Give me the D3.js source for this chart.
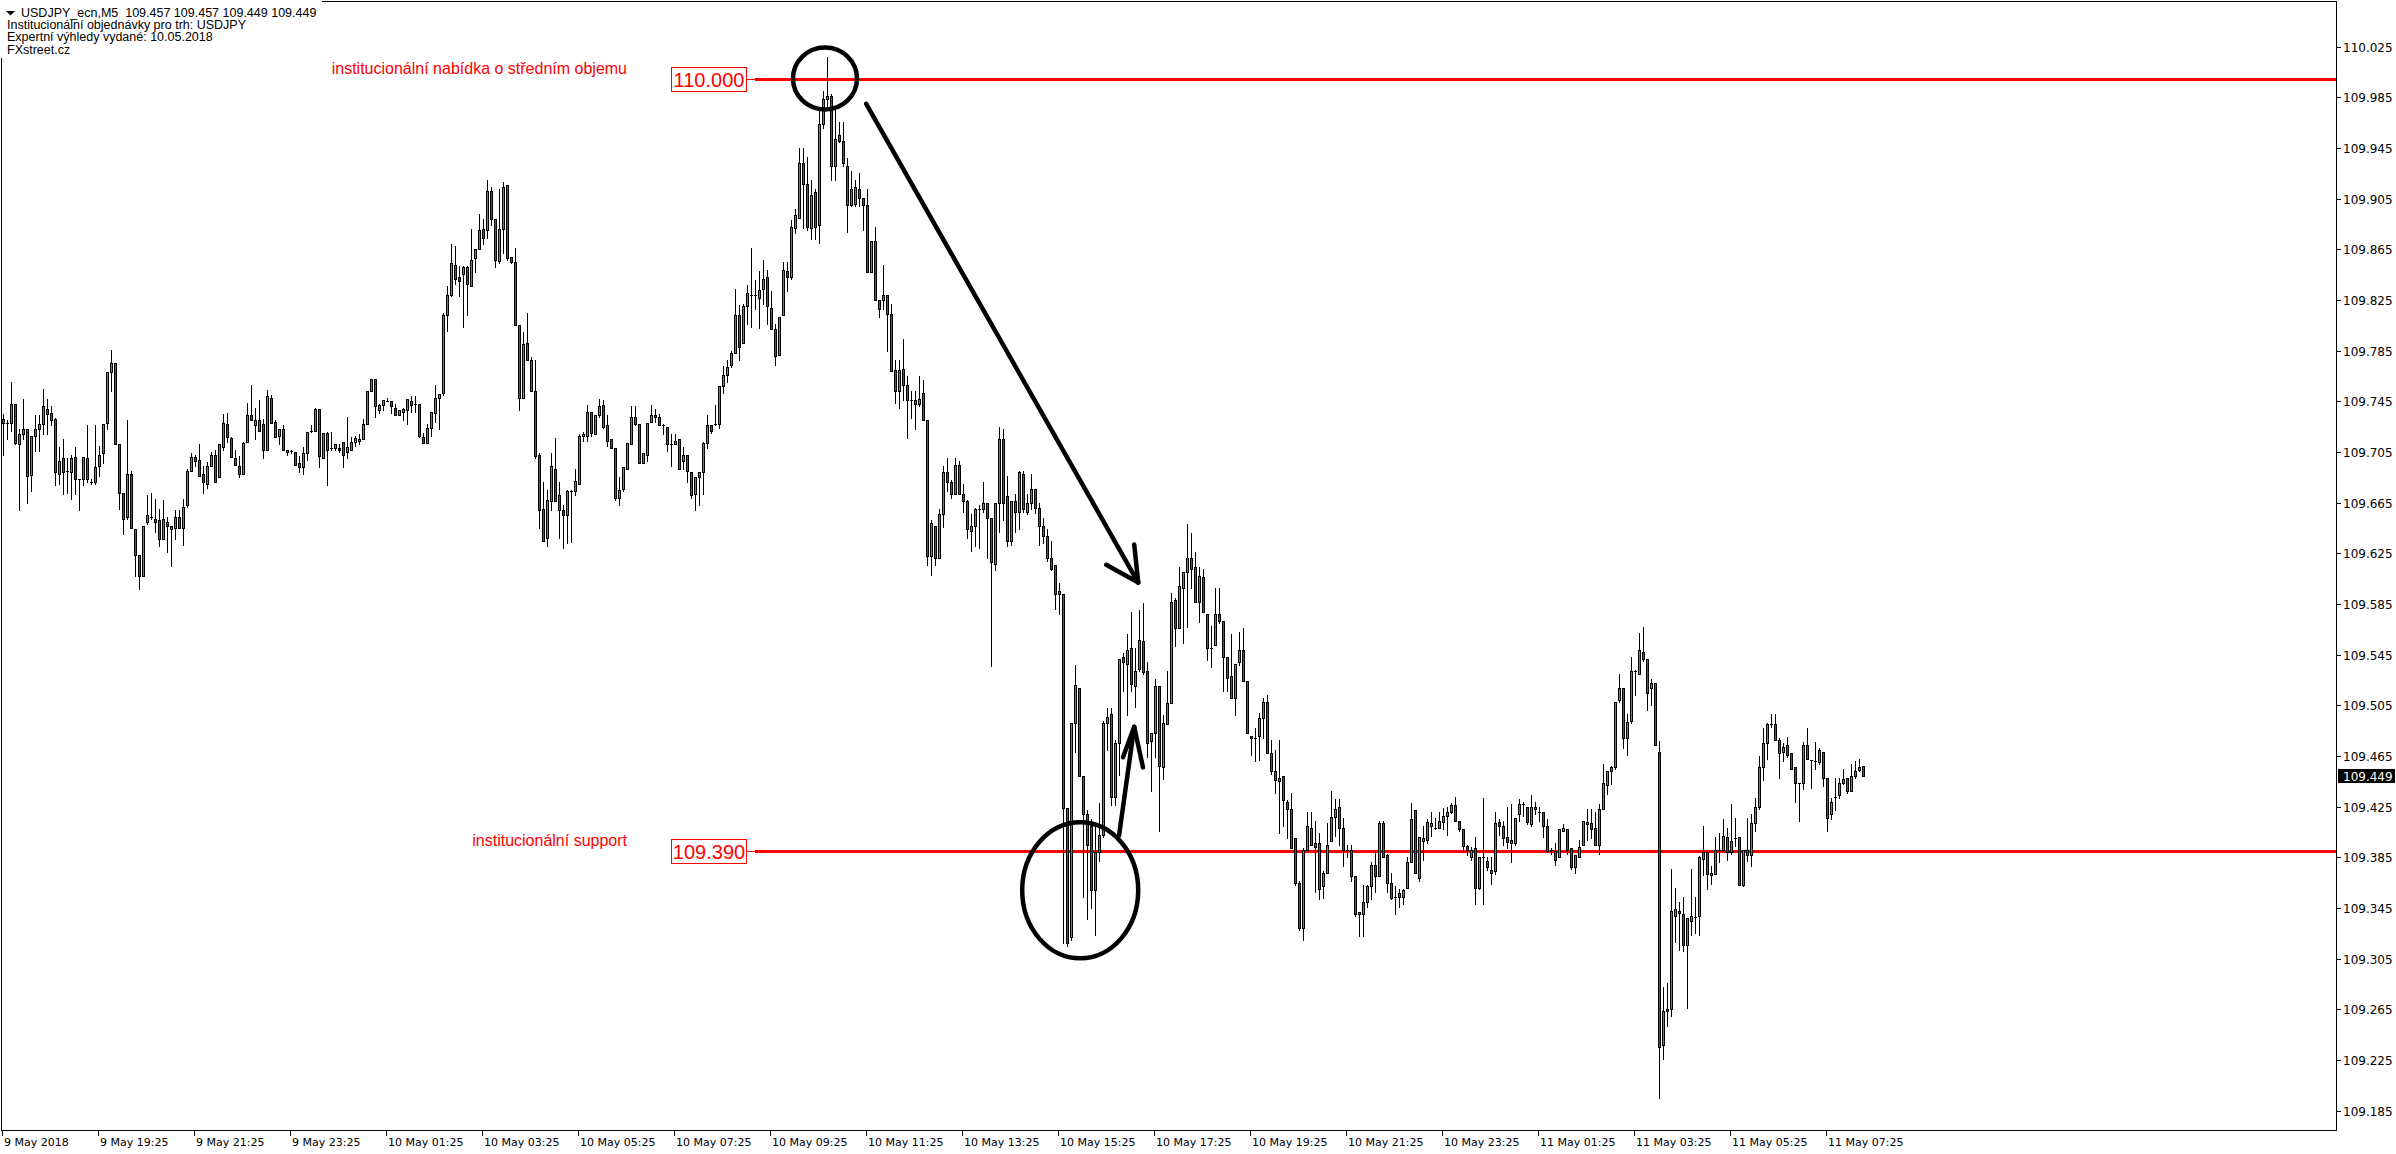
<!DOCTYPE html>
<html><head><meta charset="utf-8">
<script src="https://cdn.jsdelivr.net/npm/d3@7/dist/d3.min.js"></script>
<style>
html,body{margin:0;padding:0;background:#fff;overflow:hidden;}
svg{display:block;}
text{white-space:pre;}
</style></head><body>
<svg id="chart" width="2396" height="1154"></svg>
<script>
// ---------- DATA (USDJPY_ecn, M5, bars from 9 May 2018 17:25) ----------
const open = [
109.731,109.728,109.728,109.743,109.711,109.719,109.723,109.687,109.718,109.723,
109.727,109.739,109.736,109.731,109.688,109.700,109.690,109.689,109.701,109.684,
109.684,109.700,109.681,109.681,109.694,109.704,109.728,109.768,109.775,109.711,
109.673,109.654,109.688,109.644,109.624,109.607,109.650,109.654,109.652,109.651,
109.636,109.650,109.647,109.645,109.654,109.645,109.663,109.690,109.701,109.699,
109.688,109.680,109.694,109.703,109.685,109.709,109.727,109.716,109.700,109.694,
109.688,109.713,109.734,109.726,109.730,109.727,109.707,109.748,109.729,109.718,
109.723,109.707,109.706,109.705,109.696,109.693,109.704,109.721,109.722,109.739,
109.700,109.720,109.708,109.708,109.708,109.713,109.705,109.707,109.713,109.714,
109.715,109.727,109.753,109.763,109.738,109.742,109.745,109.745,109.740,109.734,
109.737,109.738,109.745,109.743,109.743,109.717,109.712,109.724,109.736,109.748,
109.752,109.813,109.829,109.853,109.843,109.846,109.851,109.836,109.858,109.865,
109.881,109.880,109.911,109.889,109.856,109.881,109.916,109.859,109.855,109.805,
109.748,109.791,109.778,109.753,109.703,109.660,109.637,109.666,109.692,109.671,
109.659,109.655,109.674,109.674,109.680,109.718,109.718,109.737,109.719,109.734,
109.742,109.726,109.715,109.708,109.669,109.676,109.692,109.711,109.733,109.727,
109.696,109.703,109.729,109.734,109.733,109.726,109.725,109.711,109.711,109.715,
109.698,109.703,109.689,109.672,109.685,109.689,109.712,109.726,109.726,109.727,
109.757,109.766,109.774,109.783,109.813,109.791,109.820,109.829,109.829,109.827,
109.834,109.843,109.819,109.802,109.782,109.813,109.848,109.843,109.882,109.890,
109.933,109.917,109.882,109.910,109.884,109.964,109.984,109.986,109.931,109.955,
109.951,109.931,109.900,109.901,109.913,109.906,109.900,109.847,109.872,109.825,
109.825,109.829,109.814,109.770,109.753,109.771,109.758,109.746,109.746,109.743,
109.752,109.730,109.623,109.647,109.621,109.656,109.689,109.681,109.672,109.695,
109.672,109.666,109.643,109.647,109.660,109.660,109.665,109.653,109.617,109.665,
109.715,109.670,109.635,109.666,109.658,109.688,109.658,109.665,109.676,109.661,
109.647,109.639,109.621,109.616,109.593,109.593,109.424,109.322,109.491,109.519,
109.449,109.419,109.410,109.359,109.389,109.403,109.491,109.498,109.433,109.475,
109.543,109.538,109.550,109.520,109.534,109.556,109.532,109.477,109.483,109.520,
109.456,109.490,109.507,109.588,109.566,109.598,109.610,109.621,109.614,109.587,
109.606,109.577,109.550,109.553,109.577,109.572,109.543,109.528,109.511,109.539,
109.549,109.524,109.481,109.479,109.481,109.495,109.508,109.467,109.453,109.445,
109.449,109.429,109.423,109.400,109.365,109.329,109.391,109.408,109.393,109.396,
109.362,109.373,109.398,109.417,109.425,109.408,109.391,109.391,109.370,109.340,
109.340,109.350,109.362,109.379,109.370,109.412,109.387,109.365,109.353,109.357,
109.354,109.361,109.381,109.422,109.369,109.398,109.399,109.410,109.407,109.408,
109.413,109.418,109.421,109.426,109.414,109.407,109.394,109.385,109.392,109.361,
109.385,109.382,109.375,109.374,109.413,109.410,109.401,109.399,109.396,109.419,
109.426,109.425,109.411,109.423,109.421,109.421,109.410,109.391,109.390,109.385,
109.406,109.407,109.392,109.377,109.385,109.395,109.413,109.412,109.408,109.395,
109.423,109.442,109.453,109.456,109.509,109.519,109.479,109.493,109.532,109.530,
109.547,109.542,109.519,109.523,109.468,109.237,109.264,109.265,109.339,109.343,
109.340,109.316,109.335,109.338,109.339,109.384,109.389,109.373,109.372,109.391,
109.391,109.401,109.389,109.400,109.401,109.363,109.391,109.387,109.412,109.425,
109.456,109.475,109.490,109.490,109.478,109.468,109.474,109.467,109.456,109.444,
109.444,109.474,109.462,109.462,109.460,109.468,109.448,109.419,109.432,109.434,
109.444,109.448,109.437,109.449,109.454,109.457];
const high = [
109.735,109.730,109.760,109.743,109.723,109.747,109.723,109.718,109.734,109.734,
109.755,109.747,109.741,109.732,109.709,109.715,109.700,109.703,109.709,109.684,
109.701,109.726,109.684,109.726,109.710,109.727,109.768,109.786,109.775,109.711,
109.673,109.730,109.690,109.644,109.624,109.647,109.671,109.673,109.668,109.660,
109.667,109.654,109.647,109.659,109.659,109.668,109.692,109.704,109.703,109.711,
109.694,109.697,109.705,109.707,109.711,109.735,109.736,109.717,109.707,109.702,
109.713,109.744,109.758,109.740,109.746,109.731,109.754,109.750,109.730,109.723,
109.726,109.707,109.707,109.705,109.702,109.709,109.721,109.726,109.740,109.739,
109.720,109.721,109.721,109.711,109.711,109.713,109.733,109.717,109.718,109.719,
109.731,109.753,109.763,109.763,109.743,109.746,109.748,109.745,109.743,109.738,
109.740,109.747,109.749,109.749,109.743,109.720,109.727,109.737,109.758,109.751,
109.815,109.836,109.869,109.868,109.852,109.852,109.852,109.881,109.865,109.893,
109.889,109.920,109.914,109.889,109.913,109.918,109.916,109.859,109.866,109.805,
109.800,109.815,109.780,109.778,109.704,109.681,109.675,109.704,109.716,109.681,
109.663,109.675,109.675,109.692,109.719,109.721,109.742,109.737,109.734,109.747,
109.746,109.734,109.715,109.708,109.685,109.693,109.712,109.741,109.741,109.727,
109.704,109.728,109.742,109.739,109.735,109.727,109.725,109.719,109.719,109.715,
109.709,109.703,109.689,109.685,109.689,109.713,109.734,109.726,109.742,109.757,
109.773,109.778,109.785,109.834,109.821,109.822,109.837,109.866,109.841,109.848,
109.857,109.849,109.832,109.806,109.812,109.855,109.855,109.888,109.897,109.945,
109.945,109.938,109.920,109.913,109.975,109.990,110.017,109.988,109.976,109.966,
109.966,109.937,109.927,109.920,109.925,109.906,109.913,109.872,109.883,109.825,
109.853,109.829,109.822,109.778,109.778,109.794,109.765,109.753,109.753,109.765,
109.762,109.730,109.651,109.647,109.660,109.694,109.700,109.683,109.700,109.698,
109.680,109.667,109.656,109.661,109.663,109.681,109.665,109.653,109.665,109.725,
109.723,109.686,109.666,109.672,109.690,109.690,109.672,109.688,109.676,109.665,
109.653,109.644,109.635,109.616,109.602,109.593,109.424,109.491,109.537,109.519,
109.449,109.422,109.415,109.412,109.428,109.493,109.503,109.503,109.478,109.542,
109.546,109.561,109.579,109.550,109.580,109.586,109.539,109.483,109.526,109.520,
109.497,109.532,109.594,109.590,109.614,109.610,109.648,109.641,109.626,109.614,
109.613,109.577,109.568,109.598,109.598,109.572,109.543,109.561,109.538,109.563,
109.566,109.524,109.481,109.487,109.499,109.511,109.513,109.478,109.470,109.478,
109.449,109.430,109.436,109.400,109.366,109.392,109.421,109.421,109.414,109.404,
109.374,109.412,109.437,109.431,109.431,109.416,109.395,109.395,109.370,109.342,
109.363,109.363,109.381,109.390,109.414,109.414,109.388,109.373,109.362,109.360,
109.360,109.385,109.428,109.422,109.401,109.410,109.415,109.421,109.416,109.421,
109.424,109.425,109.428,109.433,109.414,109.407,109.395,109.393,109.401,109.385,
109.432,109.385,109.385,109.421,109.415,109.414,109.425,109.427,109.416,109.431,
109.429,109.425,109.434,109.429,109.425,109.421,109.415,109.392,109.396,109.407,
109.411,109.407,109.392,109.387,109.399,109.414,109.423,109.423,109.421,109.427,
109.459,109.453,109.457,109.508,109.530,109.519,109.498,109.543,109.533,109.562,
109.567,109.542,109.526,109.523,109.477,109.283,109.286,109.376,109.361,109.350,
109.354,109.337,109.376,109.354,109.386,109.410,109.389,109.378,109.401,109.404,
109.415,109.408,109.427,109.416,109.401,109.391,109.416,109.419,109.432,109.465,
109.487,109.491,109.498,109.498,109.479,109.475,109.480,109.467,109.456,109.444,
109.476,109.487,109.462,109.476,109.471,109.468,109.448,109.432,109.448,109.448,
109.455,109.448,109.459,109.461,109.463,109.457];
const low = [
109.703,109.715,109.722,109.711,109.659,109.715,109.665,109.674,109.706,109.706,
109.719,109.719,109.726,109.679,109.680,109.672,109.673,109.668,109.672,109.659,
109.679,109.681,109.680,109.680,109.686,109.696,109.723,109.753,109.711,109.660,
109.640,109.652,109.645,109.607,109.597,109.607,109.648,109.652,109.642,109.631,
109.636,109.626,109.615,109.636,109.645,109.632,109.662,109.690,109.694,109.686,
109.673,109.677,109.694,109.681,109.685,109.707,109.713,109.701,109.695,109.685,
109.688,109.713,109.730,109.715,109.722,109.700,109.707,109.728,109.717,109.711,
109.707,109.703,109.704,109.695,109.689,109.688,109.699,109.721,109.722,109.693,
109.700,109.679,109.707,109.707,109.705,109.693,109.700,109.707,109.710,109.711,
109.715,109.727,109.753,109.733,109.736,109.738,109.745,109.736,109.734,109.734,
109.730,109.727,109.737,109.737,109.717,109.712,109.712,109.718,109.729,109.723,
109.750,109.801,109.828,109.838,109.828,109.804,109.813,109.836,109.847,109.865,
109.869,109.874,109.884,109.851,109.854,109.862,109.857,109.854,109.805,109.738,
109.748,109.778,109.753,109.700,109.645,109.635,109.631,109.659,109.666,109.637,
109.629,109.633,109.634,109.671,109.680,109.714,109.714,109.718,109.719,109.733,
109.724,109.710,109.708,109.667,109.663,109.674,109.692,109.711,109.726,109.696,
109.696,109.698,109.729,109.729,109.726,109.719,109.706,109.694,109.711,109.692,
109.692,109.681,109.669,109.659,109.663,109.672,109.708,109.720,109.726,109.724,
109.752,109.760,109.772,109.783,109.778,109.791,109.806,109.804,109.818,109.803,
109.822,109.806,109.802,109.774,109.782,109.813,109.832,109.842,109.878,109.890,
109.882,109.880,109.873,109.873,109.870,109.961,109.975,109.920,109.920,109.950,
109.931,109.879,109.899,109.899,109.899,109.880,109.847,109.847,109.825,109.812,
109.818,109.785,109.769,109.744,109.740,109.746,109.716,109.732,109.723,109.741,
109.730,109.616,109.608,109.616,109.621,109.646,109.674,109.669,109.672,109.672,
109.658,109.637,109.627,109.631,109.629,109.658,109.621,109.536,109.612,109.642,
109.651,109.631,109.632,109.642,109.644,109.658,109.656,109.660,109.657,109.632,
109.633,109.619,109.612,109.581,109.577,109.317,109.315,109.320,109.468,109.449,
109.354,109.336,109.345,109.324,109.382,109.401,109.470,109.426,109.426,109.450,
109.516,109.497,109.516,109.504,109.532,109.530,109.464,109.437,109.464,109.406,
109.447,109.490,109.507,109.552,109.566,109.554,109.567,109.598,109.587,109.571,
109.579,109.541,109.535,109.553,109.570,109.516,109.516,109.511,109.497,109.537,
109.524,109.483,109.466,109.461,109.462,109.479,109.467,109.451,109.436,109.404,
109.410,109.400,109.392,109.363,109.328,109.320,109.391,109.395,109.358,109.352,
109.353,109.373,109.398,109.402,109.395,109.378,109.385,109.366,109.339,109.323,
109.323,109.346,109.352,109.358,109.370,109.385,109.358,109.352,109.340,109.346,
109.348,109.361,109.381,109.373,109.366,109.383,109.396,109.402,109.407,109.408,
109.407,109.403,109.420,109.414,109.406,109.390,109.387,109.383,109.348,109.360,
109.348,109.375,109.364,109.372,109.403,109.395,109.392,109.381,109.395,109.414,
109.418,109.411,109.410,109.419,109.414,109.401,109.389,109.388,109.379,109.385,
109.406,109.388,109.376,109.373,109.385,109.395,109.399,109.400,109.395,109.388,
109.423,109.435,109.443,109.455,109.508,109.471,109.466,109.491,109.513,109.530,
109.540,109.501,109.505,109.474,109.195,109.226,109.252,109.260,109.318,109.312,
109.311,109.266,109.324,109.325,109.324,109.371,109.360,109.364,109.372,109.381,
109.390,109.383,109.388,109.394,109.363,109.362,109.382,109.378,109.406,109.423,
109.446,109.463,109.488,109.478,109.448,109.461,109.464,109.455,109.429,109.414,
109.439,109.463,109.440,109.455,109.459,109.441,109.406,109.415,109.422,109.432,
109.443,109.436,109.437,109.448,109.453,109.449];
const close = [
109.728,109.728,109.743,109.712,109.719,109.723,109.686,109.718,109.723,109.727,
109.741,109.735,109.730,109.689,109.698,109.689,109.690,109.700,109.684,109.684,
109.701,109.684,109.681,109.693,109.703,109.727,109.768,109.775,109.711,109.673,
109.652,109.688,109.645,109.624,109.607,109.647,109.655,109.654,109.650,109.636,
109.652,109.647,109.644,109.654,109.645,109.662,109.690,109.701,109.698,109.686,
109.681,109.694,109.703,109.681,109.711,109.728,109.717,109.701,109.695,109.688,
109.712,109.734,109.730,109.730,109.722,109.707,109.749,109.728,109.717,109.723,
109.707,109.705,109.706,109.695,109.693,109.704,109.721,109.722,109.739,109.702,
109.720,109.707,109.708,109.711,109.707,109.703,109.709,109.713,109.716,109.715,
109.727,109.753,109.763,109.741,109.742,109.746,109.745,109.741,109.734,109.738,
109.739,109.747,109.742,109.743,109.718,109.712,109.724,109.737,109.748,109.751,
109.813,109.829,109.854,109.842,109.840,109.851,109.838,109.857,109.865,109.880,
109.874,109.911,109.889,109.857,109.881,109.914,109.858,109.855,109.805,109.748,
109.790,109.778,109.753,109.702,109.659,109.635,109.667,109.694,109.666,109.659,
109.655,109.674,109.674,109.682,109.718,109.719,109.737,109.720,109.734,109.741,
109.725,109.714,109.708,109.669,109.675,109.693,109.712,109.733,109.727,109.696,
109.704,109.728,109.734,109.733,109.726,109.726,109.711,109.711,109.714,109.692,
109.703,109.690,109.671,109.685,109.689,109.712,109.726,109.722,109.727,109.757,
109.766,109.772,109.783,109.813,109.788,109.820,109.831,109.829,109.829,109.833,
109.842,109.820,109.802,109.781,109.812,109.849,109.843,109.883,109.892,109.933,
109.917,109.883,109.908,109.883,109.964,109.984,109.986,109.931,109.952,109.951,
109.933,109.900,109.913,109.914,109.906,109.900,109.847,109.872,109.825,109.818,
109.829,109.814,109.769,109.753,109.770,109.758,109.746,109.746,109.743,109.747,
109.730,109.623,109.649,109.621,109.656,109.689,109.681,109.672,109.695,109.672,
109.666,109.644,109.647,109.660,109.660,109.665,109.653,109.618,109.665,109.715,
109.665,109.635,109.666,109.658,109.689,109.660,109.665,109.676,109.661,109.647,
109.639,109.621,109.613,109.593,109.595,109.424,109.317,109.491,109.521,109.449,
109.419,109.395,109.359,109.389,109.403,109.491,109.496,109.433,109.475,109.542,
109.539,109.549,109.522,109.532,109.557,109.531,109.475,109.483,109.520,109.457,
109.491,109.507,109.587,109.566,109.599,109.610,109.621,109.613,109.587,109.607,
109.579,109.550,109.550,109.577,109.572,109.543,109.527,109.511,109.538,109.549,
109.524,109.483,109.479,109.479,109.495,109.508,109.467,109.453,109.446,109.448,
109.430,109.423,109.392,109.365,109.329,109.391,109.410,109.395,109.396,109.360,
109.373,109.395,109.417,109.423,109.408,109.391,109.391,109.370,109.340,109.342,
109.350,109.362,109.379,109.370,109.412,109.385,109.365,109.353,109.354,109.354,
109.359,109.381,109.415,109.373,109.401,109.400,109.413,109.412,109.408,109.414,
109.418,109.421,109.426,109.414,109.407,109.394,109.391,109.391,109.361,109.385,
109.385,109.377,109.373,109.412,109.410,109.400,109.397,109.396,109.416,109.427,
109.427,109.413,109.425,109.425,109.421,109.410,109.390,109.391,109.383,109.407,
109.408,109.391,109.377,109.387,109.393,109.414,109.411,109.407,109.395,109.423,
109.444,109.453,109.456,109.508,109.519,109.479,109.492,109.532,109.532,109.549,
109.542,109.515,109.523,109.474,109.235,109.264,109.265,109.343,109.344,109.341,
109.316,109.337,109.339,109.338,109.385,109.389,109.372,109.371,109.391,109.391,
109.402,109.389,109.398,109.400,109.363,109.391,109.387,109.412,109.425,109.456,
109.475,109.490,109.490,109.478,109.467,109.472,109.466,109.455,109.444,109.444,
109.474,109.463,109.462,109.461,109.470,109.448,109.416,109.429,109.433,109.444,
109.447,109.437,109.449,109.453,109.456,109.449];

const priceTicks = [110.025,109.985,109.945,109.905,109.865,109.825,109.785,109.745,109.705,109.665,109.625,
  109.585,109.545,109.505,109.465,109.425,109.385,109.345,109.305,109.265,109.225,109.185];
const timeTickIndex = [0,24,48,72,96,120,144,168,192,216,240,264,288,312,336,360,384,408,432,456];
const timeTickLabels = ["9 May 2018","9 May 19:25","9 May 21:25","9 May 23:25","10 May 01:25","10 May 03:25",
  "10 May 05:25","10 May 07:25","10 May 09:25","10 May 11:25","10 May 13:25","10 May 15:25","10 May 17:25",
  "10 May 19:25","10 May 21:25","10 May 23:25","11 May 01:25","11 May 03:25","11 May 05:25","11 May 07:25"];
const levelPrices = [110.000, 109.390];
const levelLabels = ["110.000", "109.390"];
const levelNotes = ["institucionální nabídka o středním objemu", "institucionální support"];
const headerLines = ["USDJPY_ecn,M5  109.457 109.457 109.449 109.449",
  "Institucionální objednávky pro trh: USDJPY",
  "Expertní výhledy vydané: 10.05.2018",
  "FXstreet.cz"];
const lastPrice = 109.449;
// annotations in (bar index, price)
const ellipses = [ {i:205.5, p:110.000, rx:32, ry:31}, {i:269.3, p:109.359, rx:58, ry:68} ];
const arrows = [
  {from:[215.8,109.980], to:[283.8,109.602], head:[[275.8,109.616],[282.8,109.632]]},
  {from:[279.0,109.402], to:[282.8,109.488], head:[[280.0,109.464],[285.0,109.456]]}
];

// ---------- LAYOUT ----------
const W = 2396, H = 1154;
const PR = 2336, PB = 1130;
const BULL = "#35ad35", BEAR = "#dc1c1c";
const svg = d3.select("#chart");
const N = open.length;
const x = d3.scaleLinear().domain([0, N - 1]).range([3, 3 + 4 * (N - 1)]);
const y = d3.scaleLinear().domain([109.39, 110.0]).range([851, 78.5]);

svg.append("rect").attr("width", W).attr("height", H).attr("fill", "#fff");

// level lines
const lv = svg.append("g");
levelPrices.forEach((p, k) => {
  const yy = Math.round(y(p));
  lv.append("line").attr("x1", 755).attr("x2", PR).attr("y1", yy + 0.5).attr("y2", yy + 0.5)
    .attr("stroke", "#ff0000").attr("stroke-width", 3);
  lv.append("line").attr("x1", 746).attr("x2", 756).attr("y1", yy + 0.5).attr("y2", yy + 0.5)
    .attr("stroke", "#ff0000").attr("stroke-width", 1);
  lv.append("rect").attr("x", 671.5).attr("y", yy - 11.5).attr("width", 75).attr("height", 24)
    .attr("fill", "#fff").attr("stroke", "#ff0000").attr("stroke-width", 1);
  lv.append("text").attr("x", 709).attr("y", yy + 7.5).attr("text-anchor", "middle")
    .attr("font-family", "Liberation Sans, Arial, sans-serif").attr("font-size", 20)
    .attr("fill", "#ff0000").text(levelLabels[k]);
  lv.append("text").attr("x", 627).attr("y", yy - 5).attr("text-anchor", "end")
    .attr("font-family", "Liberation Sans, Arial, sans-serif").attr("font-size", 16)
    .attr("fill", "#ff0000").text(levelNotes[k]);
});

// candles
const idx = d3.range(N);
const cg = svg.append("g");
cg.selectAll("line.wick").data(idx).join("line").attr("class", "wick")
  .attr("x1", i => Math.round(x(i)) + 0.5).attr("x2", i => Math.round(x(i)) + 0.5)
  .attr("y1", i => Math.round(y(high[i]))).attr("y2", i => Math.round(y(low[i])) + 1)
  .attr("stroke", "#000").attr("stroke-width", 1);
const bodyIdx = idx.filter(i => Math.round(y(Math.min(open[i], close[i]))) - Math.round(y(Math.max(open[i], close[i]))) >= 2);
const dojiIdx = idx.filter(i => bodyIdx.indexOf(i) < 0);
cg.selectAll("rect.body").data(bodyIdx).join("rect").attr("class", "body")
  .attr("x", i => Math.round(x(i)) - 0.5)
  .attr("y", i => Math.round(y(Math.max(open[i], close[i]))) + 0.5)
  .attr("width", 2)
  .attr("height", i => Math.round(y(Math.min(open[i], close[i]))) - Math.round(y(Math.max(open[i], close[i]))))
  .attr("fill", i => close[i] >= open[i] ? BULL : BEAR)
  .attr("stroke", "#000").attr("stroke-width", 1);
cg.selectAll("line.doji").data(dojiIdx).join("line").attr("class", "doji")
  .attr("x1", i => Math.round(x(i)) - 1).attr("x2", i => Math.round(x(i)) + 2)
  .attr("y1", i => Math.round(y(close[i])) + 0.5).attr("y2", i => Math.round(y(close[i])) + 0.5)
  .attr("stroke", "#000").attr("stroke-width", 1);

// annotations
const an = svg.append("g").attr("fill", "none").attr("stroke", "#000")
  .attr("stroke-width", 4.5).attr("stroke-linecap", "round");
an.selectAll("ellipse").data(ellipses).join("ellipse")
  .attr("cx", d => x(d.i)).attr("cy", d => y(d.p)).attr("rx", d => d.rx).attr("ry", d => d.ry);
arrows.forEach(a => {
  an.append("line").attr("x1", x(a.from[0])).attr("y1", y(a.from[1])).attr("x2", x(a.to[0])).attr("y2", y(a.to[1]));
  a.head.forEach(h => an.append("line").attr("x1", x(a.to[0])).attr("y1", y(a.to[1])).attr("x2", x(h[0])).attr("y2", y(h[1])));
});

// frame
svg.append("rect").attr("x", 1.5).attr("y", 1.5).attr("width", PR - 1).attr("height", PB - 1)
  .attr("fill", "none").attr("stroke", "#000").attr("stroke-width", 1);

// right price axis
const ax = svg.append("g").attr("font-family", "DejaVu Sans, Verdana, sans-serif").attr("font-size", 12).attr("fill", "#000");
priceTicks.forEach(p => {
  const yy = Math.round(y(p));
  ax.append("line").attr("x1", PR + 1).attr("x2", PR + 5).attr("y1", yy + 0.5).attr("y2", yy + 0.5).attr("stroke", "#000");
  ax.append("text").attr("x", PR + 7).attr("y", yy + 5).text(d3.format(".3f")(p));
});
const lyy = Math.round(y(lastPrice));
ax.append("rect").attr("x", PR + 2).attr("y", lyy - 7).attr("width", 57).attr("height", 14).attr("fill", "#000");
ax.append("text").attr("x", PR + 7).attr("y", lyy + 5).attr("fill", "#fff").text(d3.format(".3f")(lastPrice));

// bottom time axis
const bx = svg.append("g").attr("font-family", "DejaVu Sans, Verdana, sans-serif").attr("font-size", 11).attr("fill", "#000");
timeTickIndex.forEach((ti, k) => {
  const xx = Math.round(x(ti)) - 1;
  bx.append("line").attr("x1", xx + 0.5).attr("x2", xx + 0.5).attr("y1", PB + 1).attr("y2", PB + 6).attr("stroke", "#000");
  bx.append("text").attr("x", xx + 2).attr("y", PB + 16).text(timeTickLabels[k]);
});

// header
const hd = svg.append("g");
hd.append("rect").attr("x", 0).attr("y", 0).attr("width", 322).attr("height", 58).attr("fill", "#fff");
hd.append("path").attr("d", "M6,11 L15,11 L10.5,15.5 Z").attr("fill", "#000");
hd.selectAll("text").data(headerLines).join("text")
  .attr("x", (d, k) => k === 0 ? 21 : 7).attr("y", (d, k) => 17 + k * 12.2)
  .attr("font-family", "Liberation Sans, Arial, sans-serif").attr("font-size", 12.5).attr("fill", "#000")
  .text(d => d);
</script>
</body></html>
